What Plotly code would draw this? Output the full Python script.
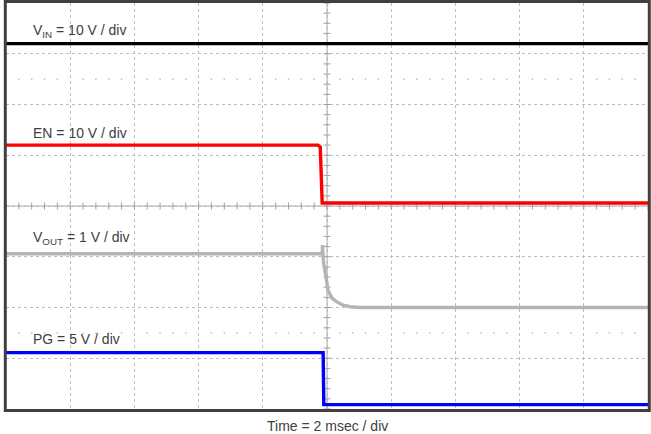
import numpy as np
import plotly.graph_objects as go

# ---- scope settings ----
TIME_PER_DIV = 2.0          # ms / div
N_XDIV, N_YDIV = 10, 8

# channel: scale (V/div) and ground-marker position (div from bottom)
VIN_SCALE, VIN_OFFSET = 10.0, 6.0
EN_SCALE, EN_OFFSET = 10.0, 4.0
VOUT_SCALE, VOUT_OFFSET = 1.0, 2.0
PG_SCALE, PG_OFFSET = 5.0, 0.09

# ---- waveform data (time in ms, value in V) ----
vin_t = [0.0, 20.0]
vin_v = [12.0, 12.0]

en_t = [0.0, 9.72, 9.79, 9.81, 9.85, 20.0]
en_v = [12.0, 12.0, 11.6, 6.0, 0.6, 0.6]

vout_t = [0.0, 9.85, 9.86, 9.89, 9.97, 10.03, 10.16, 10.31, 10.50, 10.72, 11.03, 20.0]
vout_v = [1.06, 1.06, 1.23, 0.89, 0.60, 0.34, 0.18, 0.11, 0.045, 0.016, 0.0, 0.0]

pg_t = [0.0, 9.88, 9.90, 20.0]
pg_v = [5.1, 5.1, -0.02, -0.02]

labels = [
    ("V<sub>IN</sub> = 10 V / div", 7.44),
    ("EN = 10 V / div", 5.43),
    ("V<sub>OUT</sub> = 1 V / div", 3.37),
    ("PG = 5 V / div", 1.38),
]
x_label = "Time = 2 msec / div"


def to_div(vals, scale, offset):
    return [offset + v / scale for v in vals]


fig = go.Figure()

GRID = "#bdbdbd"
xmax = N_XDIV * TIME_PER_DIV

# sub-division ticks on the centre axes
sub_x = np.arange(0, xmax + 1e-9, TIME_PER_DIV / 5)
sub_y = np.arange(0, N_YDIV + 1e-9, 0.2)
fig.add_trace(go.Scatter(x=sub_x, y=[N_YDIV / 2] * len(sub_x), mode="markers",
                         marker=dict(symbol="line-ns", size=5, line=dict(width=1, color="#a0a0a0")),
                         hoverinfo="skip", showlegend=False))
fig.add_trace(go.Scatter(x=[xmax / 2] * len(sub_y), y=sub_y, mode="markers",
                         marker=dict(symbol="line-ew", size=5, line=dict(width=1, color="#a0a0a0")),
                         hoverinfo="skip", showlegend=False))
# dotted rows
dot_x = [x for x in sub_x if abs((x / TIME_PER_DIV) - round(x / TIME_PER_DIV)) > 1e-6]
for row in (6.5, 1.5):
    fig.add_trace(go.Scatter(x=dot_x, y=[row] * len(dot_x), mode="markers",
                             marker=dict(symbol="square", size=1.5, color="#c0c0c0"),
                             hoverinfo="skip", showlegend=False))

traces = [
    (vin_t, vin_v, VIN_SCALE, VIN_OFFSET, "#000000"),
    (en_t, en_v, EN_SCALE, EN_OFFSET, "#ff0000"),
    (vout_t, vout_v, VOUT_SCALE, VOUT_OFFSET, "#b4b4b4"),
    (pg_t, pg_v, PG_SCALE, PG_OFFSET, "#0000ff"),
]
for t, v, sc, off, col in traces:
    fig.add_trace(go.Scatter(x=t, y=to_div(v, sc, off), mode="lines",
                             line=dict(color=col, width=3.4),
                             hoverinfo="skip", showlegend=False))

# ground markers
fig.add_trace(go.Scatter(x=[-0.13] * 4, y=[VIN_OFFSET, EN_OFFSET, VOUT_OFFSET, PG_OFFSET],
                         mode="markers", cliponaxis=False,
                         marker=dict(symbol="triangle-right", size=5, color="#404040"),
                         hoverinfo="skip", showlegend=False))

# centre axes (solid)
fig.add_shape(type="line", x0=xmax / 2, x1=xmax / 2, y0=0, y1=N_YDIV,
              line=dict(color="#a8a8a8", width=1), layer="below")
fig.add_shape(type="line", x0=0, x1=xmax, y0=N_YDIV / 2, y1=N_YDIV / 2,
              line=dict(color="#a8a8a8", width=1), layer="below")
# frame
fig.add_shape(type="rect", xref="paper", yref="paper", x0=-0.0011, x1=1.002,
              y0=-0.0037, y1=1.0037, line=dict(color="#404040", width=3))

for txt, yv in labels:
    fig.add_annotation(x=0.77, y=yv, text=txt, showarrow=False, xanchor="left",
                       yanchor="middle", font=dict(size=14, color="#404040",
                                                    family="Liberation Sans, Arial"))
fig.add_annotation(x=0.5, xref="paper", y=-0.042, yref="paper", text=x_label,
                   showarrow=False, xanchor="center", yanchor="middle",
                   font=dict(size=14, color="#404040", family="Liberation Sans, Arial"))

fig.update_layout(
    width=651, height=434,
    margin=dict(l=6, r=3, t=3, b=25),
    paper_bgcolor="white", plot_bgcolor="white",
    xaxis=dict(range=[0, xmax], tickvals=np.arange(0, xmax + 1e-9, TIME_PER_DIV),
               showticklabels=False, ticks="", showgrid=True, griddash="dot",
               gridcolor=GRID, gridwidth=1, zeroline=False, showline=False, fixedrange=True),
    yaxis=dict(range=[0, N_YDIV], tickvals=list(range(N_YDIV + 1)),
               showticklabels=False, ticks="", showgrid=True, griddash="dot",
               gridcolor=GRID, gridwidth=1, zeroline=False, showline=False, fixedrange=True),
)

fig.write_html("out.html", config={"displayModeBar": False},
               post_script="document.body.style.margin='0px';document.body.style.overflow='hidden';")
